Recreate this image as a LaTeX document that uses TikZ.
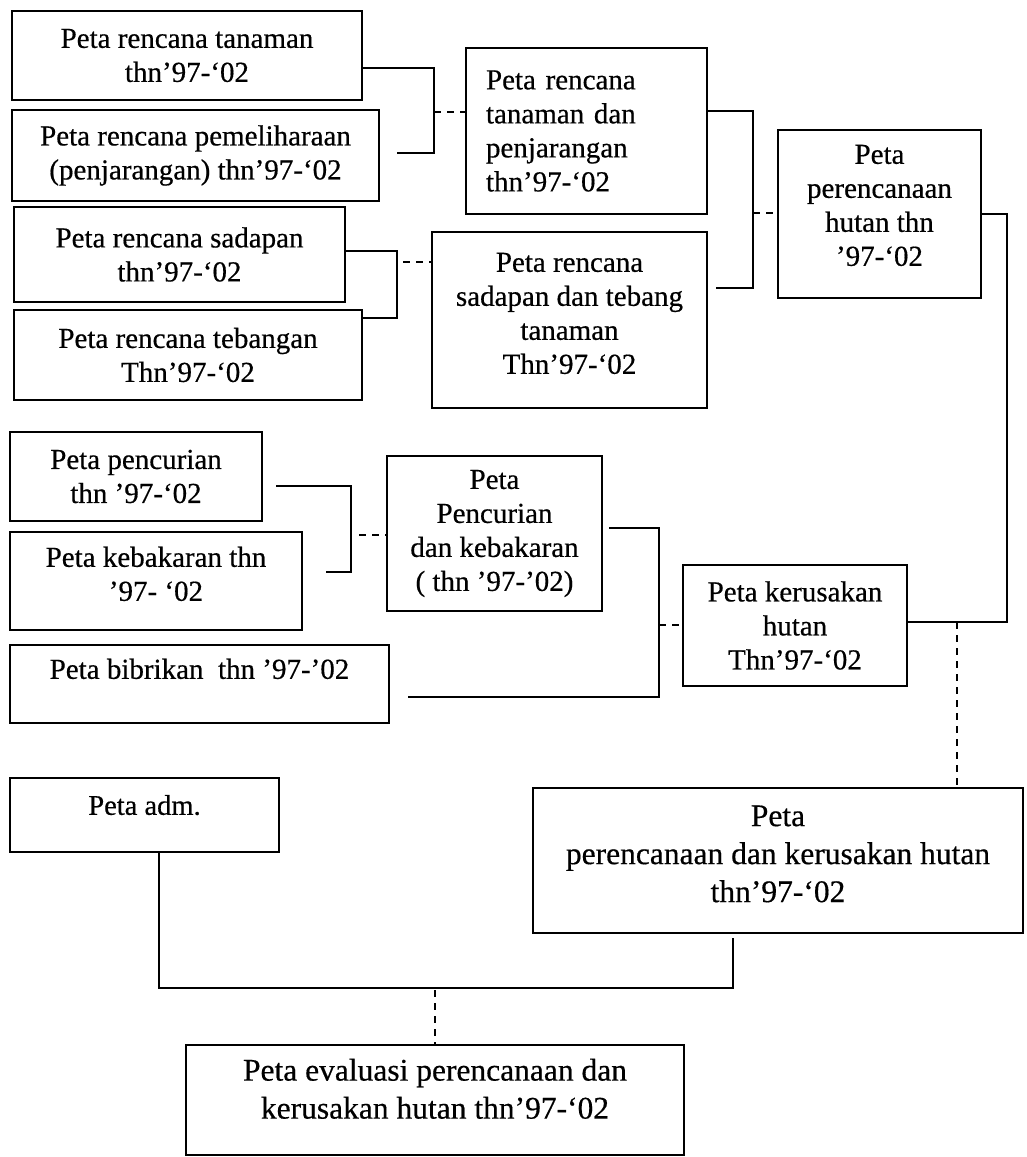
\documentclass[tikz,border=0pt]{standalone}
\usepackage{fontspec}
\setmainfont{Liberation Serif}[FakeBold=0.5]
% text block shifted upwards inside its box, without changing the box size
\newcommand{\lifted}[2]{\raisebox{#1}[\height][\depth]{\begin{tabular}{@{}c@{}}#2\end{tabular}}}
\begin{document}
\begin{tikzpicture}[x=1pt,y=-1pt,
  mapbox/.style={draw, line width=2.4pt, inner sep=0pt, align=center,
    font=\fontsize{29}{34}\selectfont},
  bigtext/.style={font=\fontsize{31.5}{38}\selectfont},
  link/.style={line width=2.2pt},
  dashlink/.style={line width=1.7pt, dash pattern=on 7pt off 6pt}]
\useasboundingbox (0,0) rectangle (1026,1157);

% ---- planning maps ----
\node[mapbox, minimum width=350pt, minimum height=89pt] (A) at (187,55.5)
  {Peta rencana tanaman\\thn’97-‘02};
\node[mapbox, minimum width=367pt, minimum height=91pt] (B) at (195.5,155.5)
  {Peta rencana pemeliharaan\\(penjarangan) thn’97-‘02};
\node[mapbox, minimum width=331pt, minimum height=95pt] (C) at (179.5,254.5)
  {Peta rencana sadapan\\thn’97-‘02};
\node[mapbox, minimum width=348pt, minimum height=90pt] (D) at (188,355)
  {Peta rencana tebangan\\Thn’97-‘02};
\node[mapbox, align=left, inner xsep=20pt, text width=201pt,
      minimum width=241pt, minimum height=166pt] (E) at (586.5,131)
  {Peta rencana\\tanaman dan\\penjarangan\\thn’97-‘02};
\node[mapbox, minimum width=275pt, minimum height=176pt] (G) at (569.5,320)
  {\lifted{4pt}{Peta rencana\\sadapan dan tebang\\tanaman\\Thn’97-‘02}};
\node[mapbox, minimum width=203pt, minimum height=168pt] (F) at (879.5,214)
  {\lifted{6pt}{Peta\\perencanaan\\hutan thn\\’97-‘02}};

% ---- damage maps ----
\node[mapbox, minimum width=252pt, minimum height=89pt] (H) at (136,476.5)
  {Peta pencurian\\thn ’97-‘02};
\node[mapbox, minimum width=292pt, minimum height=98pt] (I) at (156,581)
  {\lifted{4pt}{Peta kebakaran thn\\’97- ‘02}};
\node[mapbox, minimum width=379pt, minimum height=78pt] (J) at (199.5,684)
  {\lifted{12pt}{Peta bibrikan\ \ thn ’97-’02}};
\node[mapbox, minimum width=215pt, minimum height=155pt] (K) at (494.5,533.5)
  {Peta\\Pencurian\\dan kebakaran\\( thn ’97-’02)};
\node[mapbox, minimum width=224pt, minimum height=121pt] (L) at (795,625.5)
  {Peta kerusakan\\hutan\\Thn’97-‘02};

% ---- combined maps ----
\node[mapbox, font=\fontsize{28.5}{34}\selectfont,
      minimum width=269pt, minimum height=74pt] (N) at (144.5,815)
  {\lifted{7pt}{Peta adm.}};
\node[mapbox, bigtext, minimum width=490pt, minimum height=145pt] (M) at (778,860.5)
  {\lifted{4pt}{Peta\\perencanaan dan kerusakan hutan\\thn’97-‘02}};
\node[mapbox, bigtext, minimum width=498pt, minimum height=110pt] (O) at (435,1100)
  {\lifted{8pt}{Peta evaluasi perencanaan dan\\kerusakan hutan thn’97-‘02}};

% ---- connectors ----
\coordinate (ab1) at (434,68);
\coordinate (ab2) at (434,153);
\coordinate (ab3) at (397,153);
\coordinate (abd) at (434,112);
\draw[link] (A.east |- ab1) -- (ab1) -- (ab2) -- (ab3);
\draw[dashlink] (abd) -- (E.west |- abd);

\coordinate (cd1) at (397,251);
\coordinate (cd2) at (397,318);
\coordinate (cdd) at (403,262);
\draw[link] (C.east |- cd1) -- (cd1) -- (cd2) -- (D.east |- cd2);
\draw[dashlink] (cdd) -- (G.west |- cdd);

\coordinate (eg1) at (753,111);
\coordinate (eg2) at (753,288);
\coordinate (eg3) at (716,288);
\coordinate (egd) at (753,213);
\draw[link] (E.east |- eg1) -- (eg1) -- (eg2) -- (eg3);
\draw[dashlink] (egd) -- (F.west |- egd);

\coordinate (fl1) at (1007,214);
\coordinate (fl2) at (1007,622);
\coordinate (lmd) at (957,622);
\draw[link] (F.east |- fl1) -- (fl1) -- (fl2) -- (L.east |- fl2);
\draw[dashlink] (lmd) -- (M.north -| lmd);

\coordinate (hi0) at (276,486);
\coordinate (hi1) at (351,486);
\coordinate (hi2) at (351,572);
\coordinate (hi3) at (326,572);
\coordinate (hid) at (359,535);
\draw[link] (hi0) -- (hi1) -- (hi2) -- (hi3);
\draw[dashlink] (hid) -- (K.west |- hid);

\coordinate (kj0) at (609,528);
\coordinate (kj1) at (659,528);
\coordinate (kj2) at (659,697);
\coordinate (kj3) at (408,697);
\coordinate (kjd) at (659,625);
\draw[link] (kj0) -- (kj1) -- (kj2) -- (kj3);
\draw[dashlink] (kjd) -- (L.west |- kjd);

\coordinate (nm1) at (159,988);
\coordinate (nm2) at (733,988);
\coordinate (nm3) at (733,938);
\coordinate (nmd) at (435,990);
\draw[link] (N.south -| nm1) -- (nm1) -- (nm2) -- (nm3);
\draw[dashlink] (nmd) -- (O.north -| nmd);
\end{tikzpicture}
\end{document}
